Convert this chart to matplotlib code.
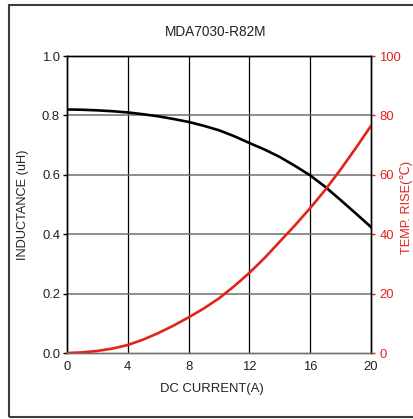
import matplotlib
matplotlib.use("Agg")
import matplotlib.pyplot as plt
from matplotlib.patches import Rectangle

plt.rcParams['font.family'] = ['Liberation Sans', 'DejaVu Sans']

# values
current = [0, 1, 2, 3, 4, 5, 6, 7, 8, 9, 10,
           11, 12, 13, 14, 15, 16, 17, 18, 19, 20]
inductance = [0.820, 0.819, 0.817, 0.814, 0.810, 0.804, 0.797, 0.788,
              0.778, 0.765, 0.750, 0.730, 0.707, 0.685, 0.660, 0.630,
              0.598, 0.559, 0.515, 0.470, 0.424]
temp_rise = [0, 0.2, 0.7, 1.5, 2.7, 4.5, 6.7, 9.2, 12, 15, 18.4,
             22.5, 27, 32, 37.5, 43, 48.8, 55, 61.8, 69, 76.5]

x_ticks = [0, 4, 8, 12, 16, 20]
l_ticks = [0.0, 0.2, 0.4, 0.6, 0.8, 1.0]
t_ticks = [0, 20, 40, 60, 80, 100]

RED = '#e2231a'

fig = plt.figure(figsize=(4.14, 4.19), dpi=100)
ax = fig.add_axes([67 / 414, 66 / 419, 304 / 414, 297 / 419])
ax2 = ax.twinx()

# outer frame of the figure
fig.patches.append(Rectangle((9 / 414, 2 / 419), 1.2, 412 / 419,
                             transform=fig.transFigure, fill=False,
                             edgecolor='#3c3c3c', linewidth=1.5))

for v in x_ticks[1:-1]:
    ax.axvline(v, color='black', linewidth=0.9, zorder=1)
for v in l_ticks[1:-1]:
    ax.axhline(v, color='#707070', linewidth=1.1, zorder=1)

ax.plot(current, inductance, color='black', linewidth=1.9, zorder=3)
ax2.plot(current, temp_rise, color=RED, linewidth=1.9, zorder=3)

ax.set_xlim(0, 20)
ax.set_ylim(0, 1.0)
ax2.set_ylim(0, 100)
ax.set_xticks(x_ticks)
ax.set_yticks(l_ticks)
ax.set_yticklabels(['%.1f' % v for v in l_ticks])
ax2.set_yticks(t_ticks)

ax.tick_params(axis='x', length=0, pad=6, labelsize=9.4, labelcolor='#222222')
ax.tick_params(axis='y', length=3, width=1, pad=2, labelsize=9.4,
               labelcolor='#222222')
ax2.tick_params(axis='y', length=3, width=1, color=RED, pad=3,
                labelsize=9.4, labelcolor=RED)

for a in (ax, ax2):
    a.spines['left'].set_color('black')
    a.spines['top'].set_color('black')
    a.spines['right'].set_color('black')
    a.spines['bottom'].set_color('#707070')
    for s in a.spines.values():
        s.set_linewidth(1.0)

fig.text(216 / 414, 1 - 32 / 419, 'MDA7030-R82M', ha='center', va='center',
         fontsize=9.8, color='#222222')
fig.text(212 / 414, 1 - 389 / 419, 'DC CURRENT(A)', ha='center', va='center',
         fontsize=9.4, color='#222222')
fig.text(23 / 414, 1 - 205 / 419, 'INDUCTANCE (uH)', ha='center',
         va='center', rotation=90, fontsize=9.2, color='#222222')
fig.text(407 / 414, 1 - 207 / 419, 'TEMP. RISE(\u2103)', ha='center',
         va='center', rotation=90, fontsize=9.2, color=RED)

fig.savefig('out.png', dpi=100)
